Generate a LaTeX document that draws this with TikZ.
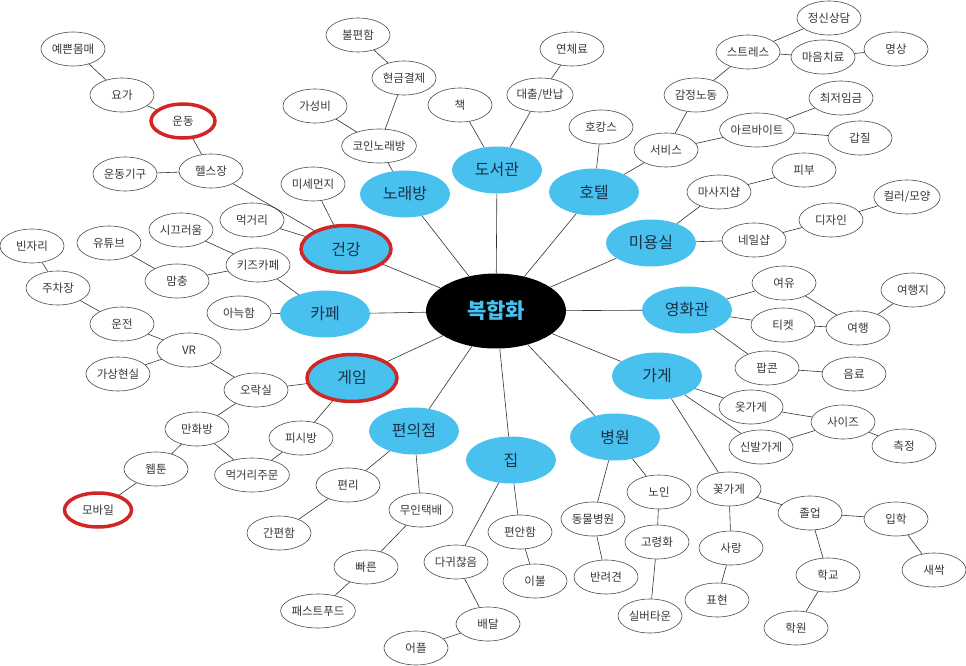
\documentclass[tikz,border=0pt]{standalone}
\usepackage{fontspec}
\setmainfont{Noto Sans CJK KR}
\usetikzlibrary{shapes.geometric}
\definecolor{hub}{RGB}{72,193,238}
\definecolor{hubtxt}{RGB}{25,50,75}
\definecolor{ring}{RGB}{210,38,38}
\definecolor{edgecol}{RGB}{50,50,50}
\definecolor{leaftxt}{RGB}{55,55,55}
\tikzset{
 leaf/.style={ellipse, draw=black!70, line width=0.6pt, fill=white, inner sep=0pt, minimum width=64pt, minimum height=34pt, font=\fontsize{11.5}{13}\selectfont, text=leaftxt},
 hubnode/.style={ellipse, fill=hub, inner sep=0pt, minimum width=90pt, minimum height=47pt, font=\fontsize{16}{18}\selectfont, text=hubtxt},
 core/.style={ellipse, fill=black, minimum width=140pt, minimum height=75pt, inner sep=0pt, font=\bfseries\fontsize{21}{24}\selectfont, text=hub},
 marked/.style={draw=ring, line width=3.5pt},
 link/.style={draw=edgecol, line width=0.6pt},
}
\begin{document}
\begin{tikzpicture}[x=1pt,y=-1pt]
\useasboundingbox (0,0) rectangle (966,666);
\node[core] (core) at (496,311) {복합화};
% hubs
\node[hubnode] (lib) at (497,170) {도서관};
\node[hubnode] (kar) at (405,194) {노래방};
\node[hubnode] (hot) at (594,192) {호텔};
\node[hubnode,marked] (hea) at (346,249) {건강};
\node[hubnode] (caf) at (325,314) {카페};
\node[hubnode,marked] (gam) at (352,378) {게임};
\node[hubnode] (cvs) at (414,431) {편의점};
\node[hubnode] (hom) at (511,460) {집};
\node[hubnode] (hos) at (615,437) {병원};
\node[hubnode] (sho) at (657,376) {가게};
\node[hubnode] (cin) at (687,310) {영화관};
\node[hubnode] (bea) at (651,243) {미용실};
% leaves
\node[leaf] (yebbeun) at (73,49) {예쁜몸매};
\node[leaf] (yoga) at (122,95) {요가};
\node[leaf,marked] (undong) at (183,121) {운동};
\node[leaf] (health) at (211,171) {헬스장};
\node[leaf] (gigu) at (125,174) {운동기구};
\node[leaf] (dust) at (313,184) {미세먼지};
\node[leaf] (food) at (252,220) {먹거리};
\node[leaf] (gasung) at (315,106) {가성비};
\node[leaf] (bulpyeon) at (358,35) {불편함};
\node[leaf] (cash) at (404,78) {현금결제};
\node[leaf,minimum width=72pt] (coin) at (379,146) {코인노래방};
\node[leaf] (book) at (460,105) {책};
\node[leaf] (overdue) at (572,49) {연체료};
\node[leaf] (lend) at (540,95) {대출/반납};
\node[leaf] (hocance) at (601,127) {호캉스};
\node[leaf] (counsel) at (829,18) {정신상담};
\node[leaf] (stress) at (748,52) {스트레스};
\node[leaf] (mind) at (823,57) {마음치료};
\node[leaf] (medit) at (896,49) {명상};
\node[leaf] (emot) at (696,95) {감정노동};
\node[leaf] (minwage) at (841,98) {최저임금};
\node[leaf,minimum width=73pt] (parttime) at (757,130) {아르바이트};
\node[leaf] (gapjil) at (860,138) {갑질};
\node[leaf] (service) at (666,150) {서비스};
\node[leaf] (skin) at (804,170) {피부};
\node[leaf] (massage) at (719,192) {마사지샵};
\node[leaf] (color) at (907,197) {컬러/모양};
\node[leaf] (design) at (831,220) {디자인};
\node[leaf] (nail) at (754,240) {네일샵};
\node[leaf] (leisure) at (784,283) {여유};
\node[leaf] (dest) at (913,290) {여행지};
\node[leaf] (ticket) at (783,325) {티켓};
\node[leaf] (travel) at (858,328) {여행};
\node[leaf] (popcorn) at (767,368) {팝콘};
\node[leaf] (drink) at (854,374) {음료};
\node[leaf] (clothes) at (751,407) {옷가게};
\node[leaf] (size) at (843,422) {사이즈};
\node[leaf] (shoes) at (761,447) {신발가게};
\node[leaf] (measure) at (904,446) {측정};
\node[leaf] (elder) at (659,492) {노인};
\node[leaf] (flower) at (729,489) {꽃가게};
\node[leaf] (grad) at (810,513) {졸업};
\node[leaf] (admit) at (896,519) {입학};
\node[leaf] (aging) at (657,542) {고령화};
\node[leaf] (love) at (731,548) {사랑};
\node[leaf] (sprout) at (934,570) {새싹};
\node[leaf] (school) at (828,575) {학교};
\node[leaf] (express) at (717,600) {표현};
\node[leaf] (silver) at (650,616) {실버타운};
\node[leaf] (academy) at (796,628) {학원};
\node[leaf] (conv) at (348,485) {편리};
\node[leaf] (parcel) at (421,510) {무인택배};
\node[leaf] (comfy) at (520,532) {편안함};
\node[leaf] (vet) at (593,519) {동물병원};
\node[leaf] (fast) at (366,567) {빠른};
\node[leaf] (lazy) at (456,562) {다귀찮음};
\node[leaf] (blanket) at (535,581) {이불};
\node[leaf] (pet) at (606,577) {반려견};
\node[leaf] (deliv) at (488,624) {배달};
\node[leaf] (app) at (416,648) {어플};
\node[leaf,minimum width=68pt] (fastfood) at (318,611) {패스트푸드};
\node[leaf] (webtoon) at (156,469) {웹툰};
\node[leaf,minimum width=71pt] (order) at (252,475) {먹거리주문};
\node[leaf,marked,minimum width=67pt] (mobile) at (98,510) {모바일};
\node[leaf] (easy) at (279,533) {간편함};
\node[leaf] (pcroom) at (301,438) {피시방};
\node[leaf] (empty) at (32,246) {빈자리};
\node[leaf] (youtube) at (109,243) {유튜브};
\node[leaf] (noisy) at (181,230) {시끄러움};
\node[leaf] (kids) at (258,265) {키즈카페};
\node[leaf] (mom) at (177,281) {맘충};
\node[leaf] (parking) at (58,288) {주차장};
\node[leaf] (cozy) at (239,313) {아늑함};
\node[leaf] (drive) at (122,324) {운전};
\node[leaf] (vr) at (189,350) {VR};
\node[leaf] (virtual) at (118,374) {가상현실};
\node[leaf] (arcade) at (256,390) {오락실};
\node[leaf] (manhwa) at (197,429) {만화방};
% connectors
\foreach \h in {lib,kar,hot,hea,caf,gam,cvs,hom,hos,sho,cin,bea}
  \draw[link] (core) -- (\h);
\foreach \a/\b in {hea/health,hea/dust,hea/food,health/undong,undong/yoga,yoga/yebbeun,health/gigu,
  kar/coin,coin/gasung,coin/cash,cash/bulpyeon,
  lib/book,lib/lend,lend/overdue,
  hot/hocance,hot/service,service/emot,emot/stress,stress/counsel,stress/mind,mind/medit,service/parttime,parttime/minwage,parttime/gapjil,
  bea/massage,massage/skin,bea/nail,nail/design,design/color,
  cin/leisure,cin/ticket,cin/popcorn,leisure/travel,ticket/travel,travel/dest,popcorn/drink,
  sho/clothes,sho/shoes,sho/flower,clothes/size,shoes/size,size/measure,flower/grad,flower/love,love/express,grad/admit,grad/school,school/academy,admit/sprout,
  hos/vet,vet/pet,hos/elder,elder/aging,aging/silver,
  hom/lazy,lazy/deliv,deliv/app,hom/comfy,comfy/blanket,
  cvs/conv,conv/easy,cvs/parcel,parcel/fast,fast/fastfood,
  gam/arcade,gam/pcroom,pcroom/order,arcade/vr,vr/drive,drive/parking,parking/empty,vr/virtual,arcade/manhwa,manhwa/webtoon,manhwa/order,webtoon/mobile,
  caf/cozy,caf/kids,kids/noisy,kids/mom,mom/youtube}
  \draw[link] (\a) -- (\b);
\end{tikzpicture}
\end{document}
